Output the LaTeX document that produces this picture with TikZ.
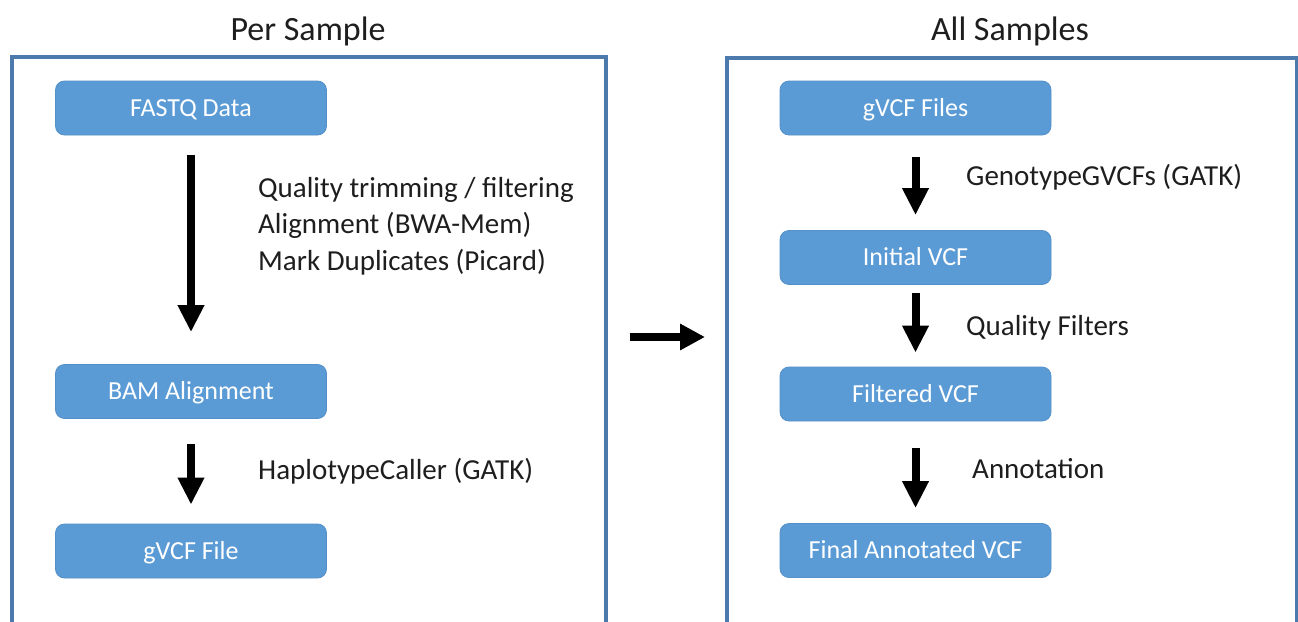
\documentclass[tikz,border=0pt]{standalone}
\usepackage{fontspec}
\setmainfont{Carlito}
\usetikzlibrary{arrows.meta}
\definecolor{panelblue}{RGB}{76,122,172}
\definecolor{stepfill}{RGB}{91,155,213}
\definecolor{stepedge}{RGB}{84,144,200}
\definecolor{labelgray}{RGB}{30,30,30}
\tikzset{
  x=1pt, y=1pt,
  panel/.style={draw=panelblue, line width=3.5pt, minimum width=#1, minimum height=640pt, anchor=north west, inner sep=0pt},
  title/.style={font=\fontsize{34}{40}\selectfont, text=labelgray, inner sep=0pt},
  stepbox/.style={fill=stepfill, draw=stepedge, line width=0.8pt, rounded corners=9pt,
    minimum width=271pt, minimum height=54pt, inner sep=0pt,
    text height=19pt, text depth=3pt,
    text=white, font=\fontsize{26}{30}\selectfont},
  steplabel/.style={anchor=west, inner sep=0pt, text=labelgray, align=left,
    font=\fontsize{29}{36.5}\selectfont},
  flow/.style={line width=8pt, -{Triangle[width=25pt,length=27pt]}},
}
\begin{document}
\begin{tikzpicture}
\useasboundingbox (0,0) rectangle (1298,-621);
\clip (0,0) rectangle (1298,-621);
\fill[white] (0,0) rectangle (1298,-621);

% the two stages, open at the bottom edge
\node[panel=594pt] (perpanel) at (10,-55) {};
\node[panel=570pt] (allpanel) at (725,-56) {};
\node[title] (pertitle) at (308,-31) {Per Sample};
\node[title] (alltitle) at (1010,-31) {All Samples};

% per-sample steps
\node[stepbox] (fastq) at (191,-108) {FASTQ Data};
\node[stepbox] (bam) at (191,-391.5) {BAM Alignment};
\node[stepbox] (gvcf) at (191,-551) {gVCF File};

\draw[flow, shorten <=20pt, shorten >=32pt] (fastq) -- (bam);
\draw[flow, shorten <=25pt, shorten >=19pt] (bam) -- (gvcf);

\node[steplabel] (prep) at (258,-226) {Quality trimming / filtering\\Alignment (BWA-Mem)\\Mark Duplicates (Picard)};
\node[steplabel] (hapcall) at (258,-471) {HaplotypeCaller (GATK)};

% joint steps across all samples
\node[stepbox] (gvcfs) at (915.5,-108) {gVCF Files};
\node[stepbox] (initial) at (915.5,-257.5) {Initial VCF};
\node[stepbox] (filtered) at (915.5,-394) {Filtered VCF};
\node[stepbox] (final) at (915.5,-550.5) {Final Annotated VCF};

\draw[flow, shorten <=22pt, shorten >=15pt] (gvcfs) -- (initial);
\draw[flow, shorten <=8pt, shorten >=14pt] (initial) -- (filtered);
\draw[flow, shorten <=27pt, shorten >=15pt] (filtered) -- (final);

\node[steplabel] (genotype) at (966,-177) {GenotypeGVCFs (GATK)};
\node[steplabel] (qfilter) at (966,-328) {Quality Filters};
\node[steplabel] (annot) at (972,-469) {Annotation};

% hand-over between the stages
\coordinate (handover) at (0,-337);
\draw[line width=8pt, -{Triangle[width=25pt,length=25pt]}, shorten <=22pt, shorten >=20pt]
  (perpanel.east |- handover) -- (allpanel.west |- handover);
\end{tikzpicture}
\end{document}
